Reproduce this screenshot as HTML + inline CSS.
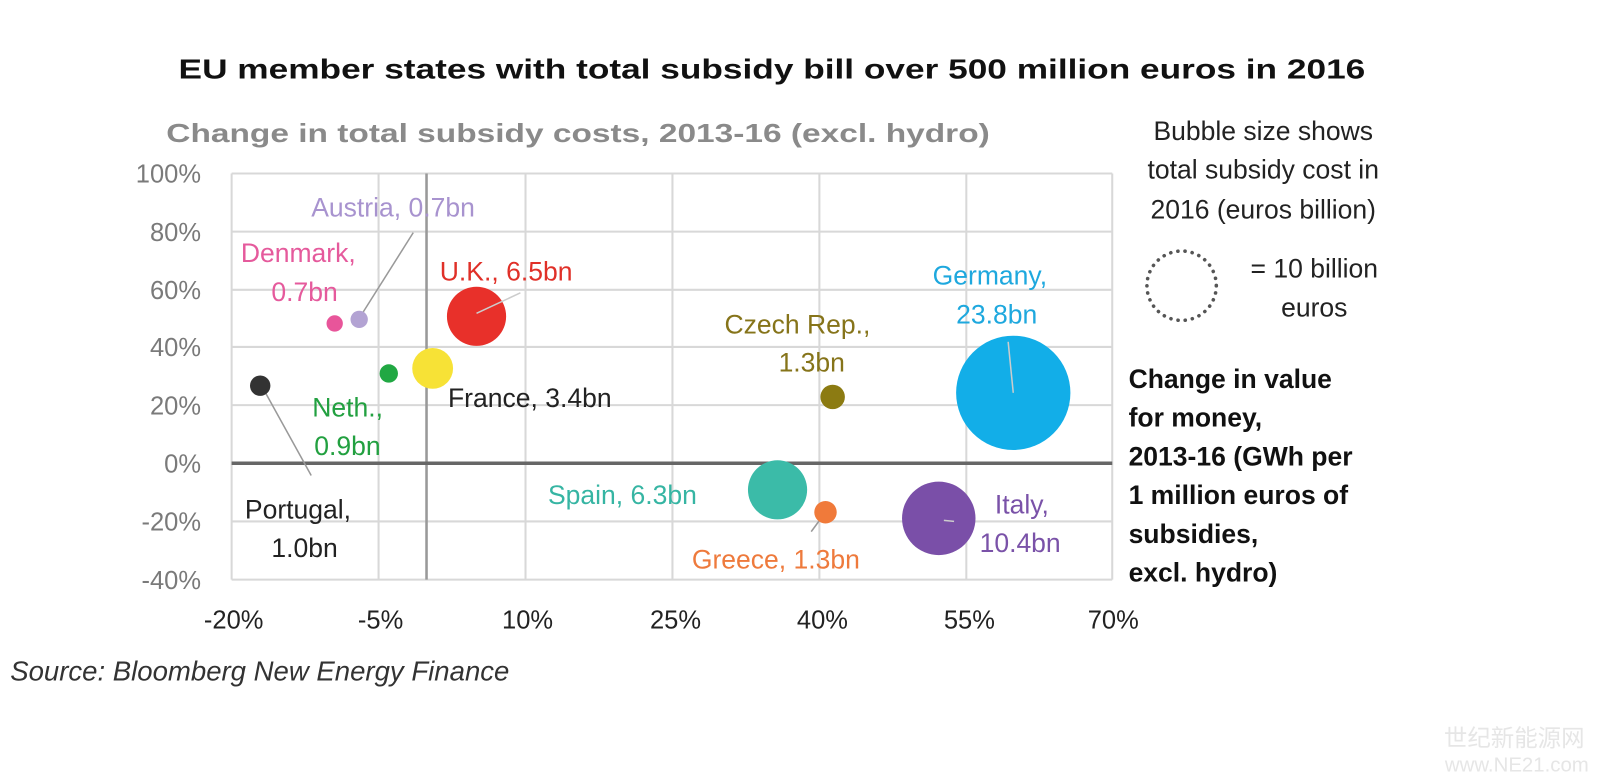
<!DOCTYPE html>
<html><head><meta charset="utf-8"><style>
html,body{margin:0;padding:0;background:#fff;}
svg{display:block;font-family:"Liberation Sans",Arial,sans-serif;}
</style></head><body>
<svg width="1600" height="773" viewBox="0 0 1600 773" xmlns="http://www.w3.org/2000/svg">
<rect width="1600" height="773" fill="#fff"/>
<g transform="scale(1.0204)">
<text x="175" y="77" font-size="27" font-weight="bold" fill="#111" textLength="1163" lengthAdjust="spacingAndGlyphs">EU member states with total subsidy bill over 500 million euros in 2016</text>
<text x="163" y="139" font-size="25" font-weight="bold" fill="#8a8a8a" textLength="807" lengthAdjust="spacingAndGlyphs">Change in total subsidy costs, 2013-16 (excl. hydro)</text>
<g stroke="#d8d8d8" stroke-width="2" fill="none">
<line x1="227" y1="170" x2="1090" y2="170"/><line x1="227" y1="227" x2="1090" y2="227"/>
<line x1="227" y1="284" x2="1090" y2="284"/><line x1="227" y1="340" x2="1090" y2="340"/>
<line x1="227" y1="397" x2="1090" y2="397"/><line x1="227" y1="511" x2="1090" y2="511"/>
<line x1="227" y1="568" x2="1090" y2="568"/>
<line x1="227" y1="170" x2="227" y2="568"/><line x1="371" y1="170" x2="371" y2="568"/>
<line x1="515" y1="170" x2="515" y2="568"/><line x1="659" y1="170" x2="659" y2="568"/>
<line x1="803" y1="170" x2="803" y2="568"/><line x1="947" y1="170" x2="947" y2="568"/>
<line x1="1090" y1="170" x2="1090" y2="568"/>
</g>
<line x1="418" y1="170" x2="418" y2="568" stroke="#999" stroke-width="2.5"/>
<line x1="227" y1="454" x2="1090" y2="454" stroke="#666" stroke-width="3.5"/>
<g font-size="25" fill="#7a7a7a" text-anchor="end">
<text x="197" y="179">100%</text><text x="197" y="236">80%</text><text x="197" y="293">60%</text>
<text x="197" y="349">40%</text><text x="197" y="406">20%</text><text x="197" y="463">0%</text>
<text x="197" y="520">-20%</text><text x="197" y="577">-40%</text>
</g>
<g font-size="25" fill="#222" text-anchor="middle">
<text x="229" y="616">-20%</text><text x="373" y="616">-5%</text><text x="517" y="616">10%</text>
<text x="662" y="616">25%</text><text x="806" y="616">40%</text><text x="950" y="616">55%</text>
<text x="1091" y="616">70%</text>
</g>
<g stroke="#999" stroke-width="1.5">
<line x1="352" y1="312" x2="405" y2="228"/>
<line x1="258" y1="381" x2="305" y2="466"/>
<line x1="809" y1="502" x2="795" y2="521"/>
</g>
<circle cx="255" cy="378" r="10" fill="#333"/>
<circle cx="328" cy="317" r="8" fill="#e8559a"/>
<circle cx="352" cy="313" r="8.5" fill="#b3a3d3"/>
<circle cx="381" cy="366" r="9" fill="#21a843"/>
<circle cx="424" cy="361" r="20" fill="#f7e236"/>
<circle cx="467" cy="310" r="29" fill="#e8302a"/>
<circle cx="816" cy="389" r="12" fill="#8c7b12"/>
<circle cx="993" cy="385" r="56" fill="#12aee8"/>
<circle cx="762" cy="480" r="29" fill="#3bbba8"/>
<circle cx="809" cy="502" r="11" fill="#f07a3a"/>
<circle cx="920" cy="508" r="36" fill="#7a4fa8"/>
<g stroke="#ccc" stroke-width="1.5">
<line x1="467" y1="307" x2="510" y2="287"/>
<line x1="988" y1="335" x2="993" y2="385"/>
<line x1="925" y1="510" x2="935" y2="511"/>
</g>
<g font-size="26">
<text x="305" y="212" fill="#a893cf">Austria, 0.7bn</text>
<text x="236" y="257" fill="#e55a9c">Denmark,</text>
<text x="266" y="295" fill="#e55a9c">0.7bn</text>
<text x="431" y="275" fill="#e03028">U.K., 6.5bn</text>
<text x="439" y="399" fill="#222">France, 3.4bn</text>
<text x="306" y="408" fill="#22a040">Neth.,</text>
<text x="308" y="446" fill="#22a040">0.9bn</text>
<text x="240" y="508" fill="#222">Portugal,</text>
<text x="266" y="546" fill="#222">1.0bn</text>
<text x="710" y="327" fill="#86741a">Czech Rep.,</text>
<text x="763" y="364" fill="#86741a">1.3bn</text>
<text x="914" y="279" fill="#1ea8de">Germany,</text>
<text x="937" y="317" fill="#1ea8de">23.8bn</text>
<text x="537" y="494" fill="#36b5a3">Spain, 6.3bn</text>
<text x="678" y="557" fill="#ee7a3c">Greece, 1.3bn</text>
<text x="975" y="503" fill="#7a52a8">Italy,</text>
<text x="960" y="541" fill="#7a52a8">10.4bn</text>
</g>
<g font-size="26" fill="#222" text-anchor="middle">
<text x="1238" y="137">Bubble size shows</text>
<text x="1238" y="175">total subsidy cost in</text>
<text x="1238" y="214">2016 (euros billion)</text>
<text x="1288" y="272">= 10 billion</text>
<text x="1288" y="310">euros</text>
</g>
<circle cx="1158" cy="280" r="34" fill="none" stroke="#555" stroke-width="3.5" stroke-dasharray="0.1 7" stroke-linecap="round"/>
<g font-size="26" font-weight="bold" fill="#111">
<text x="1106" y="380">Change in value</text>
<text x="1106" y="418">for money,</text>
<text x="1106" y="456">2013-16 (GWh per</text>
<text x="1106" y="494">1 million euros of</text>
<text x="1106" y="532">subsidies,</text>
<text x="1106" y="570">excl. hydro)</text>
</g>
<text x="10" y="667" font-size="27" font-style="italic" fill="#333">Source: Bloomberg New Energy Finance</text>
<text x="1415" y="731" font-size="23" fill="#e6e6e6" font-family="'Noto Sans CJK SC',sans-serif">世纪新能源网</text>
<text x="1416" y="756" font-size="20" fill="#e6e6e6">www.NE21.com</text>
</g>
</svg>
</body></html>
